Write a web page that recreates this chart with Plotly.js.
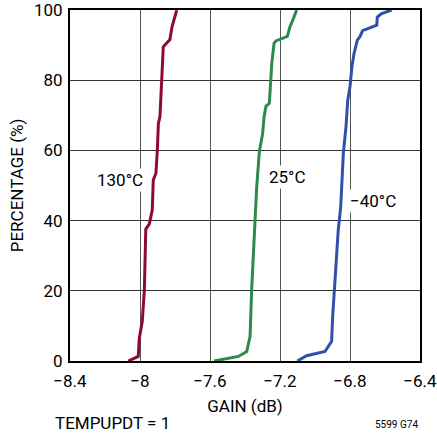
<!DOCTYPE html>
<html><head><meta charset="utf-8">
<script src="https://cdn.plot.ly/plotly-3.0.1.min.js"></script>
<style>html,body{margin:0;padding:0;background:#fff}</style>
</head><body><div id="chart" style="width:437px;height:434px"></div>
<script>
const gain130 = [-8.067,-8.010,-8.004,-7.987,-7.975,-7.967,-7.947,-7.930,-7.924,-7.909,-7.901,-7.895,-7.886,-7.874,-7.867,-7.829,-7.817,-7.790];
const pct130  = [0,1.3,6.5,11.3,20.3,37.6,39,43,51.6,53.5,60.1,67.7,69.6,80,89.5,91.6,95.2,100];
const gain25 = [-7.577,-7.438,-7.390,-7.371,-7.362,-7.352,-7.343,-7.333,-7.318,-7.310,-7.299,-7.291,-7.280,-7.261,-7.253,-7.247,-7.234,-7.223,-7.158,-7.143,-7.120,-7.105];
const pct25  = [0,1.3,2.7,7,20.3,30.7,42.1,49.7,59.6,62,64.9,69.6,72.6,73.4,79.1,84.8,90.5,91.2,92.5,95.2,98,100];
const gainM40 = [-7.101,-7.048,-6.943,-6.905,-6.899,-6.891,-6.880,-6.867,-6.853,-6.838,-6.823,-6.813,-6.800,-6.789,-6.777,-6.758,-6.743,-6.728,-6.647,-6.644,-6.619,-6.562];
const pctM40  = [0,1.5,2.7,5.6,12.7,19.3,26.9,37.4,44,59.2,66.7,74.3,78.1,83.8,87.6,91.4,92.4,94.1,95.7,98,99,100];
const xTicks = [-8.4,-8,-7.6,-7.2,-6.8,-6.4];
const xTickText = ['\u22128.4','\u22128','\u22127.6','\u22127.2','\u22126.8','\u22126.4'];
const yTicks = [0,20,40,60,80,100];

const FONT = '"Roboto", "Liberation Sans", sans-serif';
const traces = [
  {x: gain130, y: pct130, mode:'lines', line:{color:'#8e0a36', width:3}},
  {x: gain25, y: pct25, mode:'lines', line:{color:'#2e8a4c', width:3}},
  {x: gainM40, y: pctM40, mode:'lines', line:{color:'#3350a8', width:3}}
];
const layout = {
  width:437, height:434,
  margin:{l:70, r:17, t:10, b:73},
  paper_bgcolor:'#fff', plot_bgcolor:'#fff',
  showlegend:false,
  font:{family:FONT, size:17, color:'#000'},
  xaxis:{range:[-8.4,-6.4], tickvals:xTicks, ticktext:xTickText, showgrid:true, gridcolor:'#555', gridwidth:1,
    zeroline:false, showline:true, linecolor:'#000', linewidth:2, mirror:true, ticks:'', ticklen:0,
    ticklabelstandoff:4, ticklabeloverflow:'allow',
    title:{text:'GAIN (dB)', font:{size:17}, standoff:10}, tickfont:{size:17}},
  yaxis:{range:[0,100], tickvals:yTicks, showgrid:true, gridcolor:'#333', gridwidth:1,
    zeroline:false, showline:true, linecolor:'#000', linewidth:2, mirror:true, ticks:'', ticklen:0,
    ticklabelstandoff:2, ticklabeloverflow:'allow',
    title:{text:'PERCENTAGE (%)', font:{size:17}, standoff:6}, tickfont:{size:17}},
  annotations:[
    {x:-7.971, y:51.6, xref:'x', yref:'y', text:'130°C', showarrow:false, xanchor:'right', bgcolor:'#fff', font:{size:17}, borderpad:1},
    {x:-7.276, y:52.4, xref:'x', yref:'y', text:'25°C', showarrow:false, xanchor:'left', bgcolor:'#fff', font:{size:17}, borderpad:1},
    {x:-6.813, y:45.6, xref:'x', yref:'y', text:'\u221240°C', showarrow:false, xanchor:'left', bgcolor:'#fff', font:{size:17}, borderpad:1},
    {x:-0.05, y:0, xref:'paper', yref:'paper', yshift:-62, xanchor:'left', yanchor:'middle', text:'TEMPUPDT = 1', showarrow:false, font:{size:17}},
    {x:1.0, y:0, xref:'paper', yref:'paper', yshift:-63, xanchor:'right', yanchor:'middle', text:'5599 G74', showarrow:false, font:{size:10}}
  ]
};
Plotly.newPlot('chart', traces, layout, {displayModeBar:false, staticPlot:true});
</script></body></html>
